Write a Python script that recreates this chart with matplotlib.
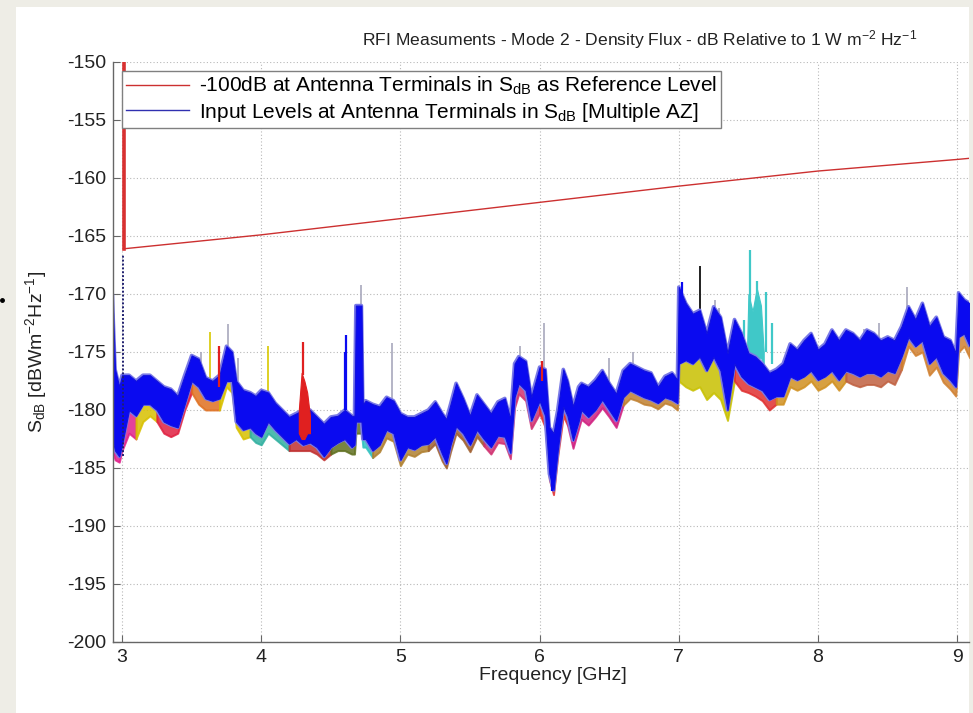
import matplotlib
matplotlib.use('Agg')
import matplotlib.pyplot as plt
import numpy as np
from matplotlib.patches import Rectangle
from matplotlib.lines import Line2D

plt.rcParams['font.family'] = ['Liberation Sans', 'DejaVu Sans']
plt.rcParams['mathtext.default'] = 'regular'
plt.rcParams['axes.unicode_minus'] = False

# ---------------- data ----------------
freq = [2.93, 2.95, 2.98, 3.00, 3.05, 3.10, 3.15, 3.20, 3.25, 3.30, 3.35, 3.40, 3.45, 3.50, 3.55, 3.60, 3.65, 3.70, 3.75, 3.79, 3.82, 3.87, 3.92, 3.96,
        4.00, 4.05, 4.10, 4.15, 4.20, 4.25, 4.30, 4.35, 4.40, 4.45, 4.50, 4.55, 4.60, 4.65, 4.67, 4.68, 4.72, 4.73, 4.75, 4.80, 4.85, 4.90, 4.95,
        5.00, 5.05, 5.10, 5.15, 5.20, 5.25, 5.30, 5.33, 5.36, 5.40, 5.45, 5.50, 5.55, 5.60, 5.65, 5.70, 5.75, 5.79, 5.82, 5.85, 5.90, 5.94,
        6.00, 6.04, 6.07, 6.10, 6.13, 6.17, 6.20, 6.24, 6.28, 6.30, 6.35, 6.40, 6.45, 6.50, 6.55, 6.60, 6.65, 6.70, 6.75, 6.80, 6.85, 6.90, 6.95, 6.99,
        7.00, 7.05, 7.10, 7.15, 7.20, 7.25, 7.30, 7.35, 7.40, 7.45, 7.50, 7.55, 7.60, 7.65, 7.70, 7.75, 7.80, 7.85, 7.90, 7.95,
        8.00, 8.05, 8.10, 8.15, 8.20, 8.25, 8.30, 8.35, 8.40, 8.45, 8.50, 8.55, 8.60, 8.65, 8.70, 8.75, 8.80, 8.85, 8.90, 8.95, 8.99, 9.01, 9.05, 9.09]

# upper edge of the blue (multiple AZ) trace band
blue_top = [-170.0, -176.5, -178.0, -177.0, -177.0, -177.5, -177.0, -177.0, -177.5, -178.0, -178.2, -178.8, -177.0, -175.3, -175.6, -177.2, -177.5, -177.0, -174.5, -175.0, -177.5, -178.3, -178.5, -178.8,
            -178.3, -178.5, -179.4, -180.0, -180.6, -180.3, -180.0, -180.0, -180.6, -181.2, -180.6, -180.5, -180.0, -180.5, -180.5, -171.0, -171.0, -179.5, -179.2, -179.5, -179.7, -178.9, -179.2,
            -180.3, -180.6, -180.6, -180.3, -180.0, -179.3, -180.3, -180.8, -179.5, -177.7, -179.0, -180.5, -178.7, -179.5, -180.3, -179.3, -179.0, -180.8, -176.0, -175.4, -175.8, -178.9,
            -176.3, -176.5, -181.5, -182.0, -180.0, -176.5, -177.5, -179.7, -178.0, -177.7, -178.0, -177.4, -176.6, -177.7, -178.6, -176.6, -176.0, -176.3, -176.6, -176.8, -178.0, -177.1, -176.8, -177.4,
            -169.4, -170.8, -171.7, -171.4, -173.4, -171.1, -172.0, -175.1, -172.2, -173.4, -175.1, -175.4, -176.0, -176.8, -176.5, -176.0, -174.3, -174.8, -174.0, -173.4,
            -174.8, -174.3, -173.1, -174.0, -173.1, -173.4, -174.0, -173.1, -173.4, -174.0, -173.7, -174.0, -172.8, -171.1, -172.2, -170.8, -172.8, -172.0, -173.7, -174.0, -175.1, -169.9, -170.5, -170.8]

# lower edge of the blue trace band
blue_bottom = [-182.5, -183.5, -184.0, -183.0, -180.0, -180.5, -179.5, -179.5, -180.0, -181.0, -181.3, -181.5, -179.5, -177.5, -178.0, -179.0, -179.2, -179.0, -177.5, -177.5, -181.0, -181.7, -181.5, -182.0,
               -182.3, -181.0, -181.7, -182.3, -182.9, -182.5, -183.0, -182.8, -183.2, -184.0, -183.2, -182.8, -182.5, -183.2, -183.0, -181.0, -181.0, -182.5, -182.5, -183.5, -183.0, -181.7, -182.0,
               -184.3, -183.2, -183.4, -183.0, -182.9, -182.3, -183.8, -184.6, -183.0, -181.4, -182.0, -183.0, -181.7, -182.5, -183.2, -182.2, -182.3, -183.7, -178.9, -177.7, -178.3, -180.9,
               -179.2, -180.5, -185.5, -186.9, -183.5, -179.7, -180.5, -182.6, -181.0, -180.0, -180.6, -180.0, -179.1, -180.0, -180.9, -178.9, -178.3, -178.6, -178.9, -179.1, -179.4, -178.9, -179.1, -179.4,
               -176.0, -175.7, -176.0, -175.4, -176.6, -175.4, -176.6, -180.0, -176.0, -177.1, -177.7, -178.0, -178.3, -179.1, -178.8, -178.8, -177.1, -177.4, -177.1, -176.6,
               -177.4, -177.1, -176.6, -177.4, -176.6, -176.8, -177.1, -176.8, -176.8, -177.1, -176.6, -176.8, -175.4, -173.7, -174.5, -174.0, -176.0, -175.4, -176.8, -177.4, -178.0, -173.7, -173.4, -174.5]

# lowest extent of the other (coloured) azimuth traces
others_low = [-183.5, -184.3, -184.5, -183.5, -182.0, -182.5, -181.0, -180.5, -181.0, -182.0, -182.3, -182.0, -180.0, -178.5, -179.5, -180.0, -180.0, -180.0, -178.0, -178.5, -181.5, -182.5, -182.3, -182.8,
              -183.0, -182.0, -182.5, -183.0, -183.5, -183.5, -183.5, -183.5, -183.8, -184.3, -183.8, -183.5, -183.5, -183.8, -183.8, -182.0, -182.0, -183.2, -183.2, -184.1, -183.6, -182.4, -182.7,
              -184.8, -183.8, -184.0, -183.6, -183.5, -182.9, -184.4, -185.0, -183.6, -182.0, -182.6, -183.6, -182.3, -183.1, -183.8, -182.8, -182.9, -184.2, -179.8, -178.6, -179.2, -181.6,
              -180.3, -181.5, -186.0, -187.3, -184.0, -180.5, -181.3, -183.3, -181.6, -180.8, -181.3, -180.6, -179.8, -180.6, -181.5, -179.6, -179.0, -179.2, -179.5, -179.6, -179.9, -179.4, -179.6, -180.0,
              -177.5, -178.0, -178.3, -178.0, -179.1, -178.5, -179.1, -180.9, -177.5, -178.3, -178.5, -178.8, -179.2, -180.0, -179.5, -179.5, -178.0, -178.3, -178.0, -177.5,
              -178.3, -178.0, -177.5, -178.3, -177.5, -177.8, -178.0, -177.8, -177.8, -178.0, -177.5, -177.8, -176.5, -174.5, -175.3, -175.0, -177.0, -176.3, -177.6, -178.2, -178.8, -175.0, -174.5, -175.5]

# narrow spikes: frequency, peak, base
gray_spike_f = [3.57, 3.76, 3.83, 4.72, 4.94, 5.86, 6.03, 6.50, 6.67, 7.26, 7.29, 8.33, 8.44, 8.64, 8.77]
gray_spike_top = [-175.0, -172.6, -175.5, -169.2, -174.2, -174.5, -172.5, -175.5, -175.0, -170.5, -171.2, -173.0, -172.5, -169.4, -171.8]
gray_spike_base = [-178.0, -175.0, -177.5, -171.5, -179.5, -176.0, -176.5, -177.5, -176.5, -172.0, -173.0, -174.0, -174.0, -171.5, -173.0]
yellow_spike_f = [3.63, 4.05]
yellow_spike_top = [-173.3, -174.5]
yellow_spike_base = [-178.0, -178.5]
red_spike_f = [3.70, 4.30, 6.02]
red_spike_top = [-174.5, -174.1, -175.8]
red_spike_base = [-178.0, -177.0, -177.5]
blue_spike_f = [4.60, 4.61, 6.09, 7.02]
blue_spike_top = [-175.0, -173.5, -182.0, -169.0]
blue_spike_base = [-180.0, -180.0, -187.0, -172.0]
black_spike_f = [7.15]
black_spike_top = [-167.6]
black_spike_base = [-172.0]
cyan_spike_f = [7.47, 7.51, 7.56, 7.63, 7.67]
cyan_spike_top = [-172.2, -166.2, -168.9, -169.8, -172.5]
cyan_spike_base = [-174.0, -172.0, -172.0, -175.0, -176.0]
navy_spike_f = [3.01]
navy_spike_top = [-166.6]
navy_spike_base = [-184.0]

# wider coloured bursts
red_burst_f = [4.27, 4.29, 4.31, 4.33, 4.35]
red_burst_top = [-180.0, -176.8, -177.5, -178.5, -180.5]
red_burst_bottom = [-182.0, -182.5, -182.5, -182.0, -182.0]
cyan_burst_f = [7.49, 7.50, 7.53, 7.56, 7.59, 7.61]
cyan_burst_top = [-175.0, -170.0, -171.5, -169.5, -171.0, -175.0]
cyan_burst_bottom = [-176.0, -175.5, -175.5, -175.5, -175.5, -176.0]

# -100 dB reference level
ref_f = [3.014, 4.0, 5.0, 6.0, 7.0, 8.0, 9.0, 9.09]
ref_v = [-166.1, -164.9, -163.5, -162.1, -160.7, -159.4, -158.4, -158.3]
ref_jump_v = [-150.0, -166.1]

x_ticks = [3, 4, 5, 6, 7, 8, 9]
y_ticks = list(range(-200, -149, 5))

title = 'RFI Measuments - Mode 2 - Density Flux - dB Relative to 1 W m$^{-2}$ Hz$^{-1}$'
xlabel = 'Frequency [GHz]'
ylabel = 'S$_{dB}$ [dBWm$^{-2}$Hz$^{-1}$]'
legend_labels = ['-100dB at Antenna Terminals in S$_{dB}$ as Reference Level',
                 'Input Levels at Antenna Terminals in S$_{dB}$ [Multiple AZ]']

# colours for the under-layer of other azimuths (by frequency range)
under_ranges = [(2.93, 3.10, '#e0208a'), (3.10, 3.25, '#d8c000'), (3.25, 3.50, '#e02040'),
                (3.50, 3.70, '#e07020'), (3.70, 3.92, '#d8c000'), (3.92, 4.20, '#30b0a0'),
                (4.20, 4.50, '#c03030'), (4.50, 4.72, '#607020'), (4.72, 4.80, '#30c0c0'),
                (4.80, 5.20, '#b08030'), (5.20, 5.60, '#a06030'), (5.60, 6.00, '#d03070'),
                (6.00, 6.20, '#e03030'), (6.20, 6.60, '#d02080'), (6.60, 7.00, '#c08030'),
                (7.00, 7.40, '#c8c000'), (7.40, 7.70, '#e03030'), (7.70, 8.20, '#d09020'),
                (8.20, 8.60, '#c06040'), (8.60, 9.09, '#d08030')]

# ---------------- figure ----------------
W, H = 973, 713
fig = plt.figure(figsize=(W / 100, H / 100), dpi=100, facecolor='#eeede6')
fig.patches.append(Rectangle((16 / W, 0), (969 - 16) / W, 1 - 7 / H, transform=fig.transFigure,
                             facecolor='white', edgecolor='none', zorder=-5))
fig.add_artist(Line2D([2 / W], [1 - 300 / H], marker='o', markersize=2.5, color='black',
                      transform=fig.transFigure))

ax = fig.add_axes([113 / W, 1 - 642 / H, (969 - 113) / W, (642 - 62) / H])
ax.set_facecolor('white')

f = np.array(freq)
bt = np.array(blue_top)
bb = np.array(blue_bottom)
ol = np.array(others_low)

for (a, b, c) in under_ranges:
    m = (f >= a - 1e-9) & (f <= b + 1e-9)
    ax.fill_between(f[m], ol[m], bb[m] + 0.6, facecolor=c, edgecolor=c, lw=1.4, alpha=0.85, zorder=1.2)

ax.fill_between(cyan_burst_f, cyan_burst_bottom, cyan_burst_top, color='#40c8c8', lw=0.8, zorder=1.4)

for fs, ts, bs, col, lw in [(gray_spike_f, gray_spike_top, gray_spike_base, '#a8a8bc', 1.2),
                            (yellow_spike_f, yellow_spike_top, yellow_spike_base, '#d8c800', 1.2),
                            (cyan_spike_f, cyan_spike_top, cyan_spike_base, '#40c8c8', 1.6),
                            (black_spike_f, black_spike_top, black_spike_base, '#202020', 1.4)]:
    ax.vlines(fs, bs, ts, colors=col, lw=lw, zorder=1.5)

# soft halo around the dense blue trace, then the trace band itself
ax.fill_between(f, bb, bt, facecolor='none', edgecolor='#7a7ae6', lw=2.6, zorder=1.9)
ax.fill_between(f, bb, bt, facecolor='#0a0af0', edgecolor='#1010e0', lw=0.8, zorder=2)
ax.vlines(blue_spike_f, blue_spike_base, blue_spike_top, colors='#0a0af0', lw=1.6, zorder=2.1)
ax.fill_between(red_burst_f, red_burst_bottom, red_burst_top, color='#e02020', lw=0.8, zorder=2.2)
ax.vlines(red_spike_f, red_spike_base, red_spike_top, colors='#e02020', lw=1.6, zorder=2.2)
ax.vlines(navy_spike_f, navy_spike_base, navy_spike_top, colors='#202070', lw=1.4,
          linestyles=(0, (1, 1)), zorder=2.3)

ax.plot(ref_f, ref_v, color='#cc3030', lw=1.0, zorder=3)
ax.plot([ref_f[0], ref_f[0]], ref_jump_v, color='#d83030', lw=2.6, zorder=3)

ax.set_xlim(2.935, 9.085)
ax.set_ylim(-200, -150)
ax.set_xticks(x_ticks)
ax.set_yticks(y_ticks)
ax.grid(True, color='#b8b8b8', lw=0.8, linestyle=(0, (1, 2)), zorder=0.5)
ax.set_axisbelow(True)
for s in ['top', 'right']:
    ax.spines[s].set_visible(False)
for s in ['left', 'bottom']:
    ax.spines[s].set_color('#666666')
    ax.spines[s].set_linewidth(1.0)
ax.tick_params(direction='in', length=5, width=0.8, color='#666666', labelsize=14,
               labelcolor='#222222', pad=5)

handles = [Line2D([], [], color='#cc3030', lw=1.0), Line2D([], [], color='#3030b0', lw=1.0)]
leg = ax.legend(handles, legend_labels, loc='upper left', bbox_to_anchor=(122 / W, 1 - 71 / H),
                bbox_transform=fig.transFigure, fontsize=15, handlelength=3.0, handletextpad=0.5,
                borderpad=0.2, labelspacing=0.15, fancybox=False, framealpha=1, borderaxespad=0)
leg.get_frame().set_edgecolor('#808080')
leg.get_frame().set_linewidth(1.0)
leg.set_zorder(10)

fig.text(640 / W, 1 - 40 / H, title, ha='center', va='center', fontsize=12.6, color='#222222')
fig.text(553 / W, 1 - 676 / H, xlabel, ha='center', va='center', fontsize=14, color='#222222')
fig.text(36 / W, 1 - 352 / H, ylabel, ha='center', va='center', rotation=90, fontsize=14, color='#222222')

fig.savefig('out.png', dpi=100, facecolor=fig.get_facecolor())
